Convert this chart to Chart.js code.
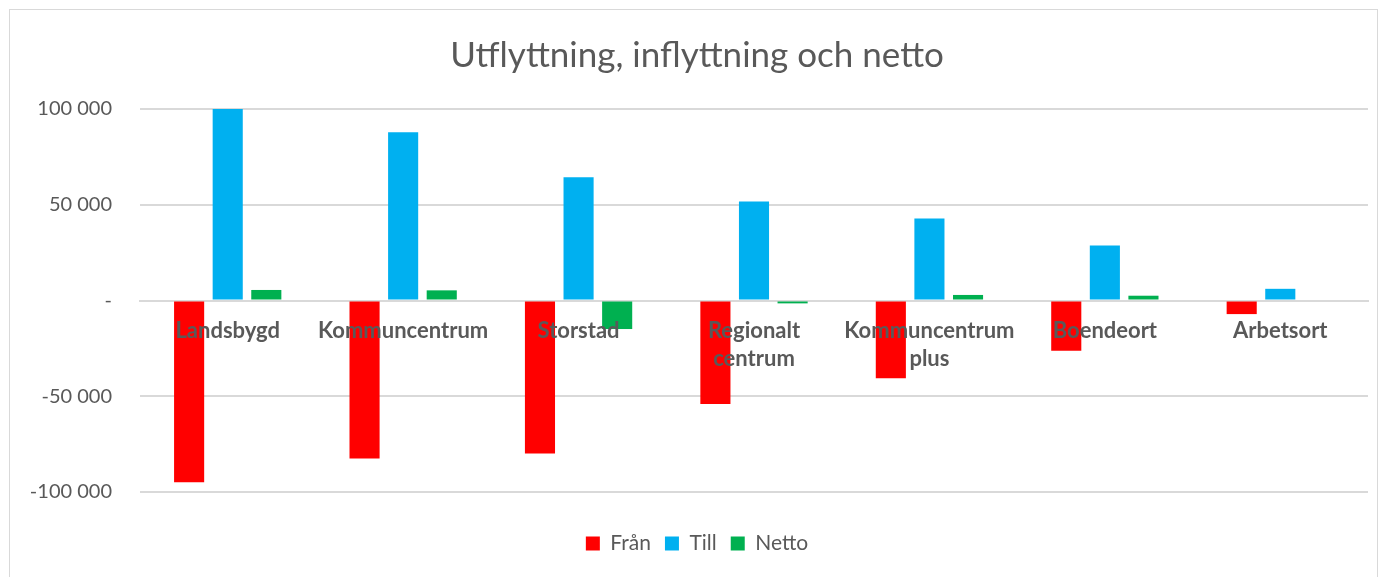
<!DOCTYPE html>
<html>
<head>
<meta charset="utf-8">
<script src="https://cdn.jsdelivr.net/npm/chart.js@4.4.0/dist/chart.umd.min.js"></script>
<style>
  html, body { margin: 0; padding: 0; background: #fff; }
  #frame { position: absolute; left: 9px; top: 9px; width: 1369px; height: 600px; border: 1px solid #d9d9d9; box-sizing: border-box; }
  #wrap { position: absolute; left: 0; top: 0; width: 1389px; height: 577px; }
</style>
</head>
<body>
<div id="frame"></div>
<div id="wrap"><canvas id="c" width="1389" height="577"></canvas></div>
<script>
const categories = ['Landsbygd', 'Kommuncentrum', 'Storstad', ['Regionalt', 'centrum'], ['Kommuncentrum', 'plus'], 'Boendeort', 'Arbetsort'];
const fran  = [-94950, -82500, -79900, -54000, -40600, -26200, -7100];
const till  = [100000, 87800, 64300, 51700, 42800, 28700, 6100];
const netto = [5500, 5300, -14900, -1500, 2900, 2500, 0];
const yTicks = [-100000, -50000, 0, 50000, 100000];

const TXT = '#595959';
const FONT = 'Lato';

function fmt(v) {
  if (v === 0) return '-';
  const s = Math.abs(v).toString().replace(/\B(?=(\d{3})+(?!\d))/g, ' ');
  return (v < 0 ? '-' : '') + s;
}

new Chart(document.getElementById('c'), {
  type: 'bar',
  data: {
    labels: categories,
    datasets: [
      { label: 'Från', data: fran, backgroundColor: '#FF0000' },
      { label: 'Till', data: till, backgroundColor: '#00B0F0' },
      { label: 'Netto', data: netto, backgroundColor: '#00B050' }
    ]
  },
  options: {
    responsive: false,
    animation: false,
    devicePixelRatio: 1,
    categoryPercentage: 0.66,
    barPercentage: 0.78,
    layout: { padding: { left: 26, right: 21, top: 12, bottom: 13 } },
    plugins: {
      title: {
        display: true,
        text: 'Utflyttning, inflyttning och netto',
        color: TXT,
        font: { family: FONT, size: 35, weight: 'normal', lineHeight: 1.2 },
        padding: { top: 23, bottom: 32 }
      },
      legend: {
        position: 'bottom',
        title: { display: true, text: '', font: { size: 1, lineHeight: 1 }, padding: { top: 26, bottom: 0 } },
        labels: {
          color: TXT,
          font: { family: FONT, size: 21 },
          boxWidth: 14,
          boxHeight: 14,
          padding: 14
        }
      },
      tooltip: { enabled: false }
    },
    scales: {
      x: {
        position: { y: 0 },
        grid: { display: false, drawTicks: false },
        border: { display: true, color: '#d9d9d9', width: 2 },
        ticks: {
          z: 1,
          color: TXT,
          font: { family: FONT, size: 22, weight: 'bold', lineHeight: 1.3 },
          padding: 16,
          maxRotation: 0,
          autoSkip: false
        }
      },
      y: {
        min: -100000,
        max: 100000,
        afterBuildTicks: (axis) => { axis.ticks = yTicks.map(v => ({ value: v })); },
        afterFit: (axis) => { axis.width = 114; },
        grid: { color: '#d9d9d9', lineWidth: 2, drawTicks: false },
        border: { display: false },
        ticks: {
          color: TXT,
          font: { family: FONT, size: 20 },
          padding: 28,
          callback: (v) => fmt(v)
        }
      }
    }
  }
});
</script>
</body>
</html>
